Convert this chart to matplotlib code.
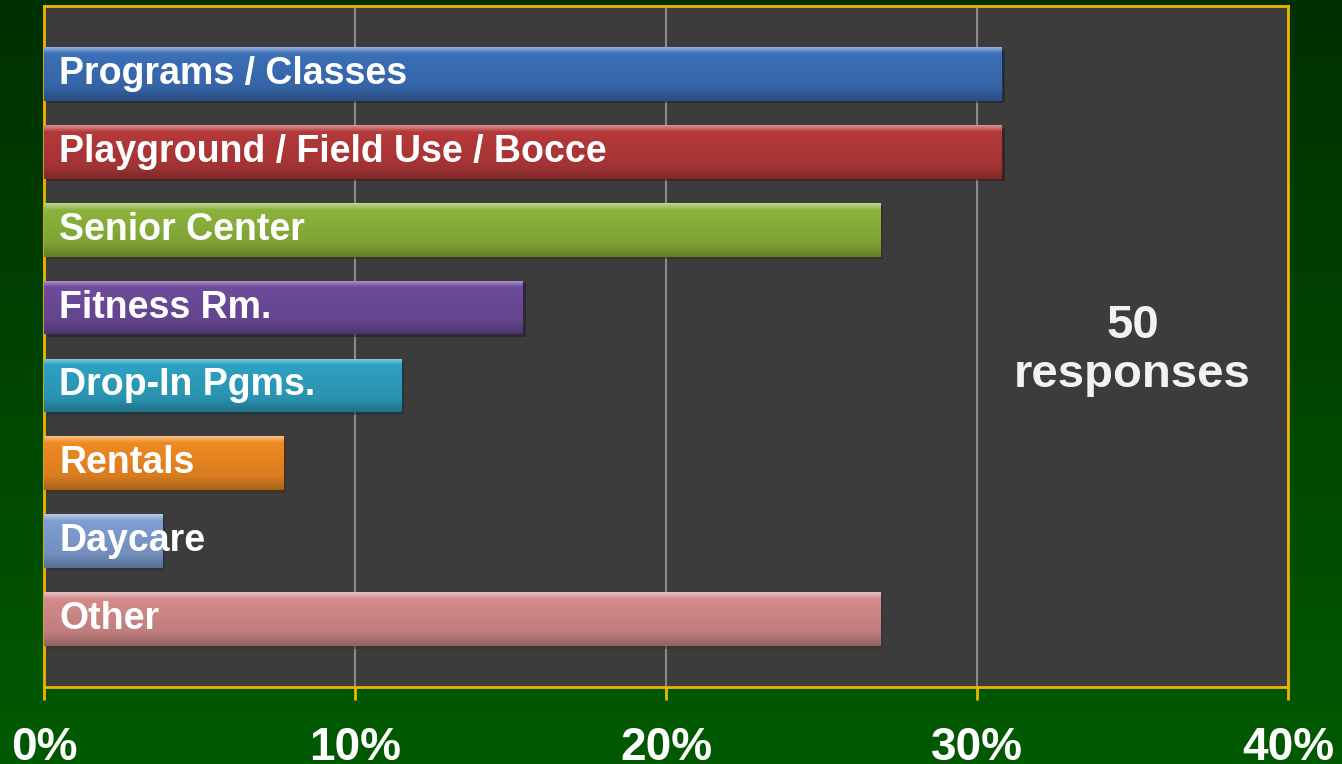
import numpy as np
import matplotlib
matplotlib.use("Agg")
import matplotlib.pyplot as plt
import matplotlib.colors as mcolors
import matplotlib.patheffects as pe
from matplotlib.ticker import MultipleLocator, PercentFormatter

plt.rcParams['font.family'] = ['Liberation Sans', 'DejaVu Sans']
plt.rcParams['font.weight'] = 'bold'

categories = ["Programs / Classes", "Playground / Field Use / Bocce", "Senior Center",
              "Fitness Rm.", "Drop-In Pgms.", "Rentals", "Daycare", "Other"]
values = [30.8, 30.8, 26.9, 15.4, 11.5, 7.7, 3.8, 26.9]
bar_colors = ["#3b6fb8", "#b5393a", "#8cb43c", "#6e4c9c", "#2ea2c2", "#f08a22", "#7f9ed2", "#d48b8b"]
note = "50\nresponses"

W, H = 1342, 764
fig = plt.figure(figsize=(W / 100, H / 100), dpi=100)

# green gradient background
bg = fig.add_axes([0, 0, 1, 1], zorder=-10)
bg.axis('off')
top = np.array(mcolors.to_rgb("#003000"))
bot = np.array(mcolors.to_rgb("#005a00"))
t = np.linspace(0, 1, 256)[:, None]
grad = top + (bot - top) * t
bg.imshow(grad[:, None, :].repeat(2, axis=1), aspect='auto', extent=[0, 1, 0, 1])

# plot area: x 44..1288, y 6..687 (pixels from top)
left, right = 44 / W, 1288 / W
ytop, ybot = 6 / H, 687 / H
ax = fig.add_axes([left, 1 - ybot, right - left, ybot - ytop])
ax.set_facecolor("#3c3c3c")

y = np.arange(len(categories))
bars = ax.barh(y, values, height=0.69, color=bar_colors, zorder=3,
               path_effects=[pe.SimplePatchShadow(offset=(2, -2), alpha=0.5), pe.Normal()])

# bevel-like vertical gradient inside each bar
for b, c in zip(bars, bar_colors):
    base = np.array(mcolors.to_rgb(c))
    light = base + (1 - base) * 0.45
    dark = base * 0.7
    s = np.linspace(0, 1, 64)
    rows = []
    for v in s:
        if v < 0.12:
            col = light + (base - light) * (v / 0.12)
        elif v < 0.75:
            col = base + (base * 0.9 - base) * ((v - 0.12) / 0.63)
        else:
            col = base * 0.9 + (dark - base * 0.9) * ((v - 0.75) / 0.25)
        rows.append(col)
    img = np.array(rows)[:, None, :].repeat(2, axis=1)
    x0, y0 = b.get_x(), b.get_y()
    w, h = b.get_width(), b.get_height()
    im = ax.imshow(img, aspect='auto', extent=[x0, x0 + w, y0 + h, y0],
                   zorder=4, interpolation='bilinear')
    im.set_clip_path(b)

for yi, lab in zip(y, categories):
    ax.annotate(lab, xy=(0, yi), xytext=(11, 0), textcoords='offset points',
                ha='left', va='center', color='white', fontsize=27,
                fontweight='bold', zorder=6)

ax.text(35.0, 3.55, note, ha='center', va='center', color='#f2f2f2',
        fontsize=34, fontweight='bold', linespacing=1.15, zorder=6)

ax.set_xlim(0, 40)
ax.set_ylim(7.87, -0.87)
ax.xaxis.set_major_locator(MultipleLocator(10))
ax.xaxis.set_major_formatter(PercentFormatter(decimals=0))
ax.set_yticks([])
ax.grid(axis='x', color='#8a8a8a', linewidth=1.5, zorder=1)
ax.set_axisbelow(True)

for sp in ax.spines.values():
    sp.set_color('#f0b400')
    sp.set_linewidth(2)
ax.tick_params(axis='x', colors='#f0b400', length=9, width=2, pad=19,
               labelcolor='white', labelsize=33)
for lbl in ax.get_xticklabels():
    lbl.set_fontweight('bold')

fig.savefig("out.png", dpi=100)
